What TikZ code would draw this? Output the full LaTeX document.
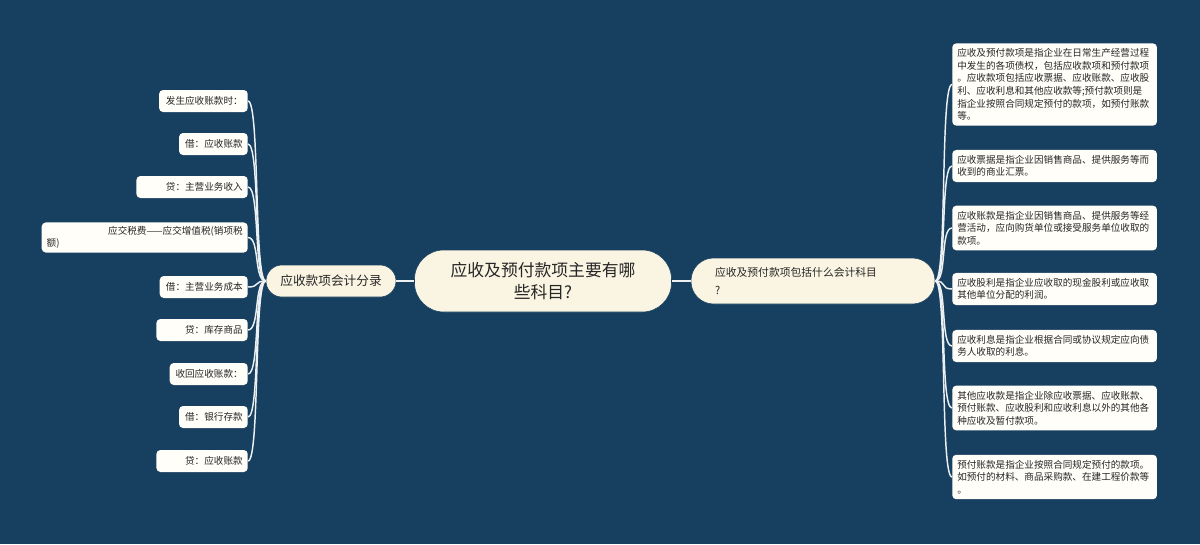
\documentclass[tikz,border=0pt]{standalone}
\usepackage{fontspec}
\setmainfont{Noto Sans CJK SC}
\definecolor{bgblue}{HTML}{173F5F}
\definecolor{cream}{HTML}{FAF5E2}
\definecolor{leafwhite}{HTML}{FFFEF9}
\definecolor{inkgray}{HTML}{262626}

\begin{document}
\begin{tikzpicture}[x=0.75pt,y=-0.75pt,
	rootbox/.style={fill=cream,draw=bgblue,rounded corners=22pt,minimum width=192.75pt,minimum height=46.5pt,align=center,text=inkgray,font=\fontsize{12.6}{16.5}\selectfont},
	branchbox/.style={fill=cream,draw=bgblue,rounded corners=12pt,text=inkgray},
	leafL/.style={fill=leafwhite,rounded corners=3pt,anchor=east,inner xsep=3.75pt,inner ysep=3pt,minimum height=16.5pt,text width=#1,align=right,text=inkgray,font=\fontsize{7.2}{9}\selectfont},
	leafR/.style={fill=leafwhite,rounded corners=3pt,anchor=west,inner xsep=3.75pt,inner ysep=4pt,text width=146pt,align=left,text=inkgray,font=\fontsize{7.2}{9.4}\selectfont},
	link/.style={draw=white!92!bgblue,line width=1.1pt}]
	\fill[bgblue] (0,0) rectangle (1200,544);
	
	%centre
	\node[rootbox] (root) at (543,281) {应收及预付款项主要有哪\\些科目?};
	
	%left branch
	\node[branchbox,minimum width=97.5pt,minimum height=24pt,font=\fontsize{9.5}{12}\selectfont] (LB) at (331,281) {应收款项会计分录};
	\draw[link] (LB.east) -- (root.west);
	
	\node[leafL=59pt] (L_N1) at (248,101) {发生应收账款时：};
	\node[leafL=44pt] (L_N2) at (248,144) {借：应收账款};
	\node[leafL=76pt] (L_N3) at (248,187) {贷：主营业务收入};
	\node[leafL=147pt,align=left] (L_N4) at (248,237.5) {\hfill 应交税费——应交增值税(销项税\\额)};
	\node[leafL=58.5pt] (L_N5) at (248,287) {借：主营业务成本};
	\node[leafL=61pt] (L_N6) at (248,330) {贷：库存商品};
	\node[leafL=51pt] (L_N7) at (248,374) {收回应收账款：};
	\node[leafL=44pt] (L_N8) at (248,417) {借：银行存款};
	\node[leafL=61pt] (L_N9) at (248,461) {贷：应收账款};
	
	\draw[link] (LB.west) .. controls +(-12,0) and +(12,0) .. (L_N1.east);
	\draw[link] (LB.west) .. controls +(-12,0) and +(12,0) .. (L_N2.east);
	\draw[link] (LB.west) .. controls +(-12,0) and +(12,0) .. (L_N3.east);
	\draw[link] (LB.west) .. controls +(-12,0) and +(12,0) .. (L_N4.east);
	\draw[link] (LB.west) .. controls +(-12,0) and +(12,0) .. (L_N5.east);
	\draw[link] (LB.west) .. controls +(-12,0) and +(12,0) .. (L_N6.east);
	\draw[link] (LB.west) .. controls +(-12,0) and +(12,0) .. (L_N7.east);
	\draw[link] (LB.west) .. controls +(-12,0) and +(12,0) .. (L_N8.east);
	\draw[link] (LB.west) .. controls +(-12,0) and +(12,0) .. (L_N9.east);
	
	%right branch
	\node[branchbox,rounded corners=17pt,minimum width=183pt,minimum height=34.5pt,inner xsep=18pt,text width=147pt,align=left,font=\fontsize{8.1}{13.5}\selectfont] (RB) at (813,281) {应收及预付款项包括什么会计科目\\?};
	\draw[link] (root.east) -- (RB.west);
	
	\node[leafR] (R_N1) at (952,84.5) {应收及预付款项是指企业在日常生产经营过程\\中发生的各项债权，包括应收款项和预付款项\\。应收款项包括应收票据、应收账款、应收股\\利、应收利息和其他应收款等;预付款项则是\\指企业按照合同规定预付的款项，如预付账款\\等。};
	\node[leafR] (R_N2) at (952,166) {应收票据是指企业因销售商品、提供服务等而\\收到的商业汇票。};
	\node[leafR] (R_N3) at (952,228) {应收账款是指企业因销售商品、提供服务等经\\营活动，应向购货单位或接受服务单位收取的\\款项。};
	\node[leafR] (R_N4) at (952,289) {应收股利是指企业应收取的现金股利或应收取\\其他单位分配的利润。};
	\node[leafR] (R_N5) at (952,346) {应收利息是指企业根据合同或协议规定应向债\\务人收取的利息。};
	\node[leafR] (R_N6) at (952,408) {其他应收款是指企业除应收票据、应收账款、\\预付账款、应收股利和应收利息以外的其他各\\种应收及暂付款项。};
	\node[leafR] (R_N7) at (952,477) {预付账款是指企业按照合同规定预付的款项。\\如预付的材料、商品采购款、在建工程价款等\\。};
	
	\draw[link] (RB.east) .. controls +(12,0) and +(-12,0) .. (R_N1.west);
	\draw[link] (RB.east) .. controls +(12,0) and +(-12,0) .. (R_N2.west);
	\draw[link] (RB.east) .. controls +(12,0) and +(-12,0) .. (R_N3.west);
	\draw[link] (RB.east) .. controls +(12,0) and +(-12,0) .. (R_N4.west);
	\draw[link] (RB.east) .. controls +(12,0) and +(-12,0) .. (R_N5.west);
	\draw[link] (RB.east) .. controls +(12,0) and +(-12,0) .. (R_N6.west);
	\draw[link] (RB.east) .. controls +(12,0) and +(-12,0) .. (R_N7.west);
\end{tikzpicture}
\end{document}
